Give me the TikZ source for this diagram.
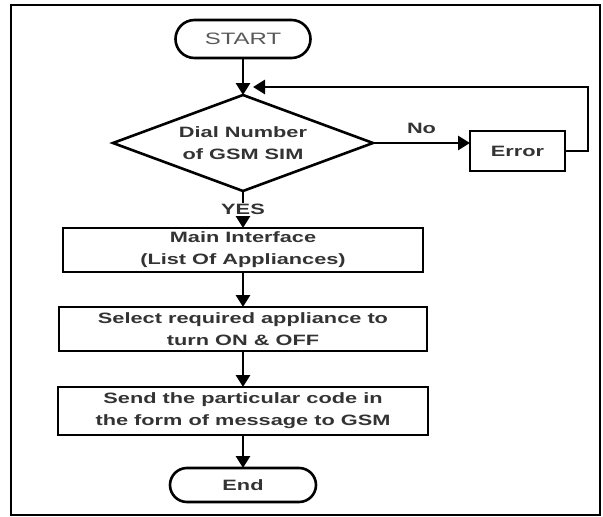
\documentclass[tikz,border=0pt]{standalone}
\usepackage{fontspec}
\setmainfont{Liberation Sans}[FakeStretch=1.45]
\usetikzlibrary{arrows.meta,positioning,shapes.geometric,calc}

\begin{document}
\begin{tikzpicture}[x=1pt,y=1pt,
    every node/.style={align=center,text=black!80,outer sep=0pt,font=\bfseries\fontsize{15}{22}\selectfont},
    box/.style={draw,line width=2.8pt,inner sep=0pt,minimum height=44pt},
    term/.style={draw,line width=2.6pt,rounded corners=17pt,inner sep=0pt,minimum height=36pt},
    decision/.style={draw,diamond,aspect=2.7,line width=2.6pt,inner sep=0pt,minimum width=260pt,minimum height=96pt},
    arr/.style={-{Triangle[length=12pt,width=14pt]},line width=2.8pt},
    lbl/.style={fill=white,inner sep=1pt}]
  \useasboundingbox (0,0) rectangle (603,-517);
  \draw[line width=2.4pt] (11,-5) rectangle (600,-515);
  \node[term,minimum width=135pt,minimum height=38pt,rounded corners=19pt,text=black!65,font=\fontsize{16.5}{20}\selectfont] (start) at (243,-39) {START};
  \node[decision,below=37pt of start] (dial) {Dial Number\\of GSM SIM};
  \node[box,right=97pt of dial,yshift=-8pt,minimum width=95pt,minimum height=40pt] (err) {Error};
  \node[box,below=37pt of dial,minimum width=360pt] (main) {Main Interface\\(List Of Appliances)};
  \node[box,below=35pt of main,minimum width=368pt] (sel) {Select required appliance to\\turn ON \& OFF};
  \node[box,below=36pt of sel,minimum width=370pt,minimum height=48pt] (send) {Send the particular code in\\the form of message to GSM};
  \node[term,below=33pt of send,minimum width=146pt,minimum height=34pt] (end) {End};
  \coordinate (back) at ($(dial.north)+(10,8)$);
  \draw[arr] (start) -- (dial);
  \draw[arr] (dial.east) -- node[above=6pt]{No} (dial.east -| err.west);
  \draw[arr] (err.east) -- ++(23,0) |- (back);
  \draw[arr] (dial) -- node[lbl]{YES} (main);
  \draw[arr] (main) -- (sel);
  \draw[arr] (sel) -- (send);
  \draw[arr] (send) -- (end);
\end{tikzpicture}
\end{document}
